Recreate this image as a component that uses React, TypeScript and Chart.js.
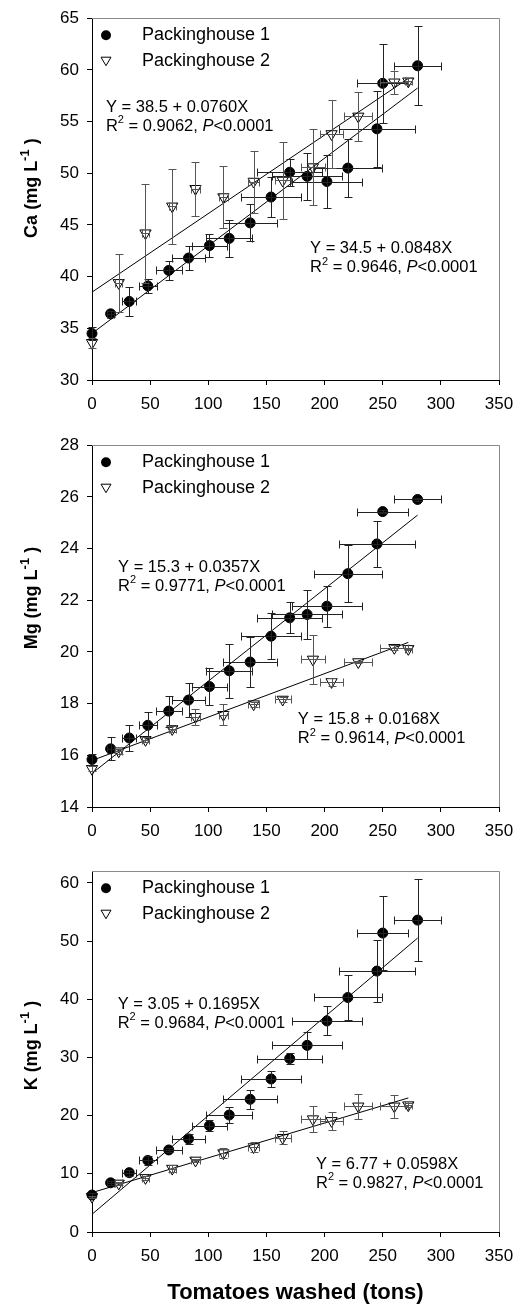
import React, { useEffect, useRef } from "react";
import { Chart, registerables } from "chart.js";

Chart.register(...registerables);

const FONT = "'Liberation Sans', Arial, Helvetica, sans-serif";

// ---- shared x (tonnage) data ----
const p1X = [0, 16, 32, 48, 66, 83, 101, 118, 136, 154, 170, 185, 202, 220, 245, 250, 280];
const p1XErr = [0, 3, 6, 8, 11, 14, 15, 20, 23, 26, 28, 30, 30, 29, 33, 22, 20];
const p2X = [0, 23, 46, 69, 89, 113, 139, 164, 190, 206, 229, 260, 272];
const p2XErr = [0, 3, 3, 3, 4, 4, 5, 7, 10, 10, 12, 12, 3];

const xTicks = [0, 50, 100, 150, 200, 250, 300, 350];

// ---- Ca ----
const caTicks = [30, 35, 40, 45, 50, 55, 60, 65];
const caP1 = [34.5, 36.4, 37.6, 39.1, 40.6, 41.8, 43.0, 43.7, 45.2, 47.7, 50.1, 49.7, 49.2, 50.5, 54.3, 58.7, 60.4];
const caP1Err = [0.6, 0.3, 1.4, 0.7, 0.9, 1.2, 1.1, 1.8, 1.8, 1.9, 1.3, 2.3, 2.6, 2.8, 3.7, 3.8, 3.8];
const caP2 = [33.6, 39.4, 44.2, 46.8, 48.5, 47.7, 49.2, 49.3, 50.6, 53.8, 55.5, 58.8, 58.9];
const caP2Err = [0.5, 2.8, 4.8, 3.6, 2.6, 3.0, 3.0, 3.7, 3.7, 3.3, 2.4, 1.1, 0.3];
const caFitA = [34.5, 38.5];
const caFitB = [0.0848, 0.076];
const caEqText = ["Y = 34.5 + 0.0848X", "Y = 38.5 + 0.0760X"];
const caR2Text = ["0.9646", "0.9062"];

// ---- Mg ----
const mgTicks = [14, 16, 18, 20, 22, 24, 26, 28];
const mgP1 = [15.84, 16.25, 16.67, 17.16, 17.71, 18.14, 18.66, 19.27, 19.61, 20.61, 21.32, 21.45, 21.77, 23.03, 24.18, 25.43, 25.9];
const mgP1Err = [0.2, 0.45, 0.5, 0.5, 0.6, 0.65, 0.7, 1.05, 0.95, 0.9, 0.6, 0.95, 0.8, 1.1, 0.9, 0.06, 0.06];
const mgP2 = [15.48, 16.16, 16.6, 17.02, 17.49, 17.57, 17.98, 18.16, 19.71, 18.84, 19.61, 20.16, 20.12];
const mgP2Err = [0.1, 0.1, 0.1, 0.1, 0.3, 0.4, 0.1, 0.1, 0.95, 0.15, 0.05, 0.1, 0.05];
const mgFitA = [15.3, 15.8];
const mgFitB = [0.0357, 0.0168];
const mgEqText = ["Y = 15.3 + 0.0357X", "Y = 15.8 + 0.0168X"];
const mgR2Text = ["0.9771", "0.9614"];

// ---- K ----
const kTicks = [0, 10, 20, 30, 40, 50, 60];
const kP1 = [6.35, 8.45, 10.2, 12.3, 14.1, 16.0, 18.27, 20.1, 22.8, 26.3, 29.8, 32.07, 36.27, 40.3, 44.84, 51.37, 53.6];
const kP1Err = [0.3, 0.3, 0.5, 0.8, 0.4, 0.9, 0.95, 1.4, 1.6, 1.3, 0.9, 2.3, 2.5, 3.8, 5.3, 6.4, 7.0];
const kP2 = [6.07, 8.35, 9.3, 10.9, 12.3, 13.56, 14.6, 16.2, 19.4, 19.1, 21.6, 21.6, 21.8];
const kP2Err = [0.2, 0.3, 0.3, 0.6, 0.3, 0.8, 0.9, 1.1, 2.3, 1.5, 2.1, 2.0, 0.3];
const kFitA = [3.05, 6.77];
const kFitB = [0.1695, 0.0598];
const kEqText = ["Y = 3.05 + 0.1695X", "Y = 6.77 + 0.0598X"];
const kR2Text = ["0.9684", "0.9827"];

const seriesNames = ["Packinghouse 1", "Packinghouse 2"];
const fitXMax = [280, 272];

type Panel = {
  label: string;
  yMin: number;
  yMax: number;
  yTicks: number[];
  p1: number[];
  p1e: number[];
  p2: number[];
  p2e: number[];
  fitA: number[];
  fitB: number[];
  eqText: string[];
  r2Text: string[];
  eqPos: { x: number; y: number }[];
  canvasTop: number;
  canvasH: number;
  xAxisH: number;
  titleShift: number;
  xTitle: boolean;
};

const panels: Panel[] = [
  {
    label: "Ca", yMin: 30, yMax: 65, yTicks: caTicks,
    p1: caP1, p1e: caP1Err, p2: caP2, p2e: caP2Err,
    fitA: caFitA, fitB: caFitB, eqText: caEqText, r2Text: caR2Text,
    eqPos: [{ x: 187.5, y: 42.7 }, { x: 12, y: 56.4 }],
    canvasTop: 0, canvasH: 420, xAxisH: 40, titleShift: -11, xTitle: false,
  },
  {
    label: "Mg", yMin: 14, yMax: 28, yTicks: mgTicks,
    p1: mgP1, p1e: mgP1Err, p2: mgP2, p2e: mgP2Err,
    fitA: mgFitA, fitB: mgFitB, eqText: mgEqText, r2Text: mgR2Text,
    eqPos: [{ x: 22.4, y: 23.28 }, { x: 177, y: 17.37 }],
    canvasTop: 427, canvasH: 420, xAxisH: 40, titleShift: -28, xTitle: false,
  },
  {
    label: "K", yMin: 0, yMax: 62, yTicks: kTicks,
    p1: kP1, p1e: kP1Err, p2: kP2, p2e: kP2Err,
    fitA: kFitA, fitB: kFitB, eqText: kEqText, r2Text: kR2Text,
    eqPos: [{ x: 22.1, y: 39.17 }, { x: 192.6, y: 11.63 }],
    canvasTop: 853, canvasH: 454, xAxisH: 75, titleShift: -6, xTitle: true,
  },
];

const errorBarPlugin = {
  id: "errbars",
  afterDatasetsDraw(chart: any) {
    const ctx = chart.ctx;
    const xs = chart.scales.x;
    const ys = chart.scales.y;
    chart.data.datasets.forEach((ds: any) => {
      if (!ds.errY) return;
      ctx.save();
      ctx.strokeStyle = ds.errColor;
      ctx.lineWidth = 1;
      const cap = 4;
      ds.data.forEach((pt: any, j: number) => {
        const px = Math.round(xs.getPixelForValue(pt.x)) + 0.5;
        const py = Math.round(ys.getPixelForValue(pt.y)) + 0.5;
        const ey = ds.errY[j];
        const ex = ds.errX[j];
        ctx.beginPath();
        if (ey > 0) {
          const y1 = Math.round(ys.getPixelForValue(pt.y + ey)) + 0.5;
          const y2 = Math.round(ys.getPixelForValue(pt.y - ey)) + 0.5;
          ctx.moveTo(px, y1); ctx.lineTo(px, y2);
          ctx.moveTo(px - cap, y1); ctx.lineTo(px + cap, y1);
          ctx.moveTo(px - cap, y2); ctx.lineTo(px + cap, y2);
        }
        if (ex > 0) {
          const x1 = Math.round(xs.getPixelForValue(pt.x - ex)) + 0.5;
          const x2 = Math.round(xs.getPixelForValue(pt.x + ex)) + 0.5;
          ctx.moveTo(x1, py); ctx.lineTo(x2, py);
          ctx.moveTo(x1, py - cap); ctx.lineTo(x1, py + cap);
          ctx.moveTo(x2, py - cap); ctx.lineTo(x2, py + cap);
        }
        ctx.stroke();
      });
      ctx.restore();
    });
  },
};

function drawRuns(ctx: CanvasRenderingContext2D, runs: [string, string, number][], x: number, y: number) {
  let cx = x;
  for (const [t, f, dy] of runs) {
    ctx.font = f;
    ctx.fillText(t, cx, y + dy);
    cx += ctx.measureText(t).width;
  }
}

function makeDecoPlugin(p: Panel) {
  return {
    id: "deco",
    afterDraw(chart: any) {
      const ctx: CanvasRenderingContext2D = chart.ctx;
      const a = chart.chartArea;
      const xs = chart.scales.x;
      const ys = chart.scales.y;
      ctx.save();
      // top & right frame
      ctx.strokeStyle = "#8a8a8a";
      ctx.lineWidth = 1;
      ctx.beginPath();
      ctx.moveTo(a.left, Math.round(a.top) + 0.5);
      ctx.lineTo(Math.round(a.right) + 0.5, Math.round(a.top) + 0.5);
      ctx.lineTo(Math.round(a.right) + 0.5, a.bottom);
      ctx.stroke();

      // legend
      const lx = a.left + 14;
      const r1 = a.top + 17;
      const r2 = a.top + 43;
      ctx.fillStyle = "#000";
      ctx.beginPath();
      ctx.arc(lx, r1, 5, 0, Math.PI * 2);
      ctx.fill();
      ctx.beginPath();
      ctx.moveTo(lx - 5, r2 - 4);
      ctx.lineTo(lx + 5, r2 - 4);
      ctx.lineTo(lx, r2 + 4.5);
      ctx.closePath();
      ctx.fillStyle = "#fff";
      ctx.fill();
      ctx.strokeStyle = "#000";
      ctx.stroke();
      ctx.fillStyle = "#000";
      ctx.textBaseline = "middle";
      ctx.textAlign = "left";
      ctx.font = `18px ${FONT}`;
      ctx.fillText(seriesNames[0], a.left + 50, r1);
      ctx.fillText(seriesNames[1], a.left + 50, r2);

      // equations
      const norm = `16.5px ${FONT}`;
      const sup = `11px ${FONT}`;
      const ital = `italic 16.5px ${FONT}`;
      for (let i = 0; i < 2; i++) {
        const ex = xs.getPixelForValue(p.eqPos[i].x);
        const ey = ys.getPixelForValue(p.eqPos[i].y);
        ctx.font = norm;
        ctx.fillText(p.eqText[i], ex, ey);
        drawRuns(ctx, [
          ["R", norm, 0],
          ["2", sup, -6],
          [" = " + p.r2Text[i] + ", ", norm, 0],
          ["P", ital, 0],
          ["<0.0001", norm, 0],
        ], ex, ey + 19);
      }

      // y-axis title (rotated, with superscript)
      const big = `bold 18px ${FONT}`;
      const small = `bold 13px ${FONT}`;
      const runs: [string, string, number][] = [
        [p.label + " (mg L", big, 0],
        ["-1", small, -7],
        [" )", big, 0],
      ];
      let total = 0;
      for (const [t, f] of runs) { ctx.font = f; total += ctx.measureText(t).width; }
      ctx.translate(32, (a.top + a.bottom) / 2 + p.titleShift);
      ctx.rotate(-Math.PI / 2);
      ctx.textBaseline = "middle";
      drawRuns(ctx, runs, -total / 2, 0);
      ctx.restore();
    },
  };
}

function buildConfig(p: Panel): any {
  const d1 = p1X.map((x, i) => ({ x, y: p.p1[i] }));
  const d2 = p2X.map((x, i) => ({ x, y: p.p2[i] }));
  const fit = (k: number) => [
    { x: 0, y: p.fitA[k] },
    { x: fitXMax[k], y: p.fitA[k] + p.fitB[k] * fitXMax[k] },
  ];
  return {
    type: "scatter",
    data: {
      datasets: [
        { type: "line", data: fit(0), borderColor: "#000", borderWidth: 1, pointRadius: 0, fill: false, clip: false },
        { type: "line", data: fit(1), borderColor: "#000", borderWidth: 1, pointRadius: 0, fill: false, clip: false },
        {
          label: seriesNames[0], data: d1, pointStyle: "circle", pointRadius: 5,
          backgroundColor: "#000", borderColor: "#000", borderWidth: 1, clip: false,
          errY: p.p1e, errX: p1XErr, errColor: "#222",
        },
        {
          label: seriesNames[1], data: d2, pointStyle: "triangle", rotation: 180, pointRadius: 6.5,
          backgroundColor: "#fff", borderColor: "#000", borderWidth: 1, clip: false,
          errY: p.p2e, errX: p2XErr, errColor: "#555",
        },
      ],
    },
    options: {
      animation: false,
      responsive: false,
      maintainAspectRatio: false,
      devicePixelRatio: 1,
      layout: { padding: { left: 0, right: 24, top: 16, bottom: 0 } },
      plugins: { legend: { display: false }, tooltip: { enabled: false } },
      scales: {
        x: {
          type: "linear",
          min: 0,
          max: 350,
          afterBuildTicks: (s: any) => { s.ticks = xTicks.map((v) => ({ value: v })); },
          afterFit: (s: any) => { s.height = p.xAxisH; },
          grid: { drawOnChartArea: false, drawTicks: true, tickLength: 5, color: "#000" },
          border: { display: true, color: "#000", width: 1 },
          ticks: { color: "#000", font: { family: FONT, size: 17 }, padding: 9, maxRotation: 0, autoSkip: false },
          title: {
            display: p.xTitle,
            text: "Tomatoes washed (tons)",
            color: "#000",
            font: { family: FONT, size: 22, weight: "bold" },
            padding: { top: 0, bottom: 1 },
          },
        },
        y: {
          type: "linear",
          min: p.yMin,
          max: p.yMax,
          afterBuildTicks: (s: any) => { s.ticks = p.yTicks.map((v) => ({ value: v })); },
          afterFit: (s: any) => { s.width = 92; },
          grid: { drawOnChartArea: false, drawTicks: true, tickLength: 5, color: "#000" },
          border: { display: true, color: "#000", width: 1 },
          ticks: { color: "#000", font: { family: FONT, size: 17 }, padding: 8, autoSkip: false },
        },
      },
    },
    plugins: [errorBarPlugin, makeDecoPlugin(p)],
  };
}

function PanelChart({ p }: { p: Panel }) {
  const ref = useRef<HTMLCanvasElement | null>(null);
  useEffect(() => {
    if (!ref.current) return;
    const chart = new Chart(ref.current, buildConfig(p));
    return () => chart.destroy();
  }, [p]);
  return (
    <canvas
      ref={ref}
      width={523}
      height={p.canvasH}
      style={{ position: "absolute", left: 0, top: p.canvasTop, width: 523, height: p.canvasH, display: "block" }}
    />
  );
}

export default function App() {
  return (
    <div style={{ position: "absolute", left: 0, top: 0, width: 523, height: 1307, background: "#fff" }}>
      {panels.map((p) => (
        <PanelChart key={p.label} p={p} />
      ))}
    </div>
  );
}
